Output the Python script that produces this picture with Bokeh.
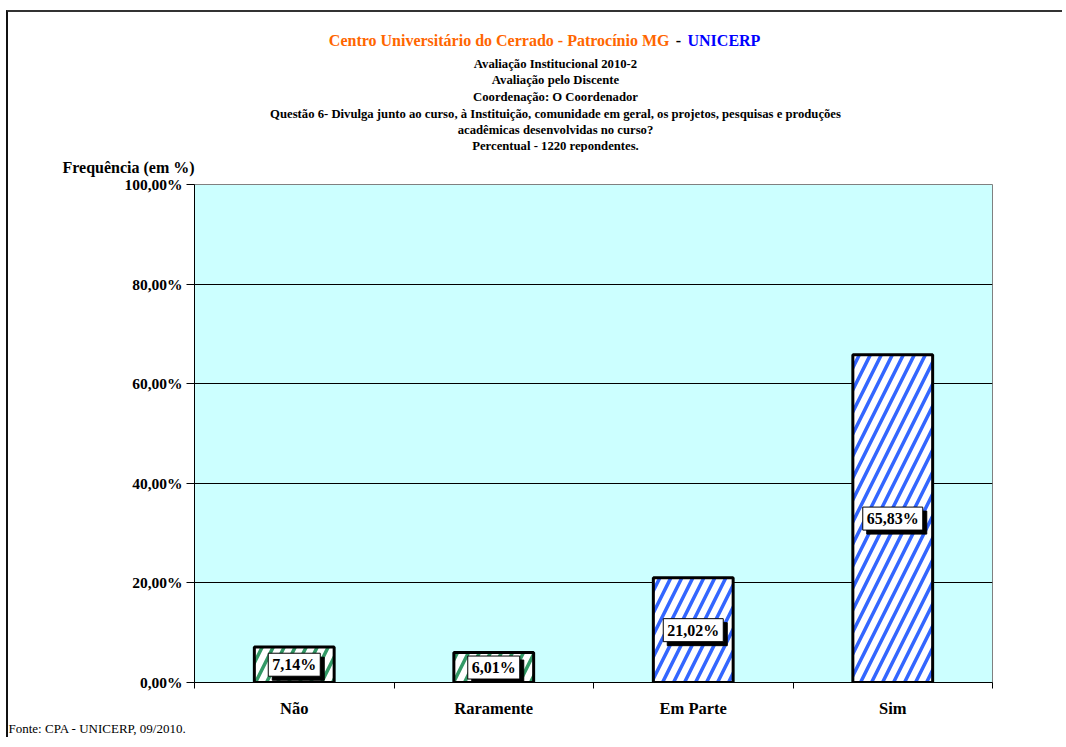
from bokeh.plotting import figure
from bokeh.models import Label, FixedTicker, Range1d, Title
from bokeh.layouts import column
from bokeh.embed import file_html
from bokeh.resources import INLINE
import numpy as np

# ---- data ----
categories = ["Não", "Raramente", "Em Parte", "Sim"]
values = [7.14, 6.01, 21.02, 65.83]
value_labels = ["7,14%", "6,01%", "21,02%", "65,83%"]
hatch_colors = ["#339966", "#339966", "#3366FF", "#3366FF"]
y_ticks = [0, 20, 40, 60, 80, 100]
y_tick_labels = ["0,00%", "20,00%", "40,00%", "60,00%", "80,00%", "100,00%"]

title_main = "Centro Universitário do Cerrado - Patrocínio MG"
title_sep = "-"
title_org = "UNICERP"
subtitle_lines = [
    "Avaliação Institucional 2010-2",
    "Avaliação pelo Discente",
    "Coordenação: O Coordenador",
    "Questão 6- Divulga junto ao curso, à Instituição, comunidade em geral, os projetos, pesquisas e produções",
    "acadêmicas desenvolvidas no curso?",
    "Percentual - 1220 repondentes.",
]
y_axis_title = "Frequência (em %)"
footer = "Fonte: CPA - UNICERP, 09/2010."

SERIF = "Liberation Serif"

# page geometry
OX, OY = 8, 12          # top-left of the first canvas on the page
W = 1054
H_HEAD = 140            # page y 12 .. 152
H_MAIN = 585            # page y 152 .. 737
ML, MR = 186, 70
FW, FH = W - ML - MR, 500
MT = 32
MB = H_MAIN - MT - FH
n = len(categories)
xpos = np.arange(n) + 0.5

# ---------------- header (frame aligned with the chart frame) ----------------
head = figure(width=W, height=H_HEAD, output_backend="svg", toolbar_location=None,
              x_range=Range1d(OX + ML, OX + ML + FW), y_range=Range1d(OY + H_HEAD, OY),
              x_axis_type=None, y_axis_type=None,
              min_border_left=ML, min_border_right=MR, min_border_top=0, min_border_bottom=0)
head.outline_line_color = None
head.background_fill_color = "white"
head.border_fill_color = "white"
head.grid.visible = False


def head_label(px, py, text, **kw):
    head.add_layout(Label(x=px, y=py, text=text, text_font=SERIF,
                          text_baseline="middle", **kw))


head_label(669, 40, title_main, text_color="#FF6600", text_font_style="bold",
           text_font_size="16px", text_align="right")
head_label(678, 40, title_sep, text_color="black", text_font_style="bold",
           text_font_size="16px", text_align="center")
head_label(687, 40, title_org, text_color="#0000FF", text_font_style="bold",
           text_font_size="16px", text_align="left")
sub_y = [63, 79, 96, 113, 129, 145]
for line, yy in zip(subtitle_lines, sub_y):
    head_label(555, yy, line, text_color="black", text_font_style="bold",
               text_font_size="12.7px", text_align="center")

# ---------------- main chart ----------------
p = figure(width=W, height=H_MAIN, output_backend="svg", toolbar_location=None,
           x_range=Range1d(0, n), y_range=Range1d(0, 100),
           min_border_left=ML, min_border_top=MT, min_border_right=MR, min_border_bottom=MB)
p.background_fill_color = "#CCFFFF"
p.border_fill_color = "white"
p.outline_line_color = "#808080"
p.outline_line_width = 1

p.xgrid.visible = False
p.ygrid.grid_line_color = "black"
p.ygrid.grid_line_width = 1
p.ygrid.ticker = FixedTicker(ticks=y_ticks)

p.yaxis.ticker = FixedTicker(ticks=y_ticks)
p.yaxis.major_label_overrides = {t: l for t, l in zip(y_ticks, y_tick_labels)}
p.yaxis.major_label_text_font = SERIF
p.yaxis.major_label_text_font_style = "bold"
p.yaxis.major_label_text_font_size = "15.5px"
p.yaxis.major_label_text_color = "black"
p.yaxis.major_tick_out = 8
p.yaxis.major_tick_in = 0
p.yaxis.minor_tick_line_color = None
p.yaxis.axis_line_color = "black"
p.yaxis.major_tick_line_color = "black"
p.yaxis.major_label_standoff = 4

p.xaxis.ticker = FixedTicker(ticks=list(xpos), minor_ticks=list(range(n + 1)))
p.xaxis.major_label_overrides = {float(x): c for x, c in zip(xpos, categories)}
p.xaxis.major_tick_line_color = None
p.xaxis.major_tick_out = 6
p.xaxis.minor_tick_out = 6
p.xaxis.minor_tick_in = 0
p.xaxis.minor_tick_line_color = "black"
p.xaxis.axis_line_color = "black"
p.xaxis.major_label_text_font = SERIF
p.xaxis.major_label_text_font_style = "bold"
p.xaxis.major_label_text_font_size = "16.5px"
p.xaxis.major_label_text_color = "black"
p.xaxis.major_label_standoff = 10

# y-axis caption and footer as titles (they may sit outside the frame)
p.add_layout(Title(text=y_axis_title, align="left", offset=62 - (OX + ML),
                   text_font=SERIF, text_font_style="bold", text_font_size="16px",
                   text_color="black", standoff=13, vertical_align="top"), "above")
p.add_layout(Title(text=footer, align="left", offset=8 - (OX + ML),
                   text_font=SERIF, text_font_style="normal", text_font_size="13px",
                   text_color="black", standoff=0, vertical_align="top"), "below")

p.vbar(x=xpos, top=values, width=0.4, bottom=0,
       fill_color="white", hatch_pattern="/", hatch_color=hatch_colors,
       hatch_weight=3.5, hatch_scale=22,
       line_color="black", line_width=3)

for x, v, t in zip(xpos, values, value_labels):
    common = dict(x=x, y=v / 2, text=t, text_font=SERIF, text_font_style="bold",
                  text_font_size="16px", text_align="center", text_baseline="middle",
                  padding=dict(x=4, y=3))
    p.add_layout(Label(x_offset=4, y_offset=-4, text_color="black",
                       background_fill_color="black", border_line_color="black",
                       **common))
    p.add_layout(Label(text_color="black", background_fill_color="white",
                       border_line_color="black", border_line_width=1, **common))

layout = column(head, p, spacing=0)
layout.styles = {"border-left": "2px solid #111", "border-top": "2px solid #333",
                 "margin-left": "6px", "margin-top": "10px"}

open("out.html", "w").write(file_html(layout, INLINE))
